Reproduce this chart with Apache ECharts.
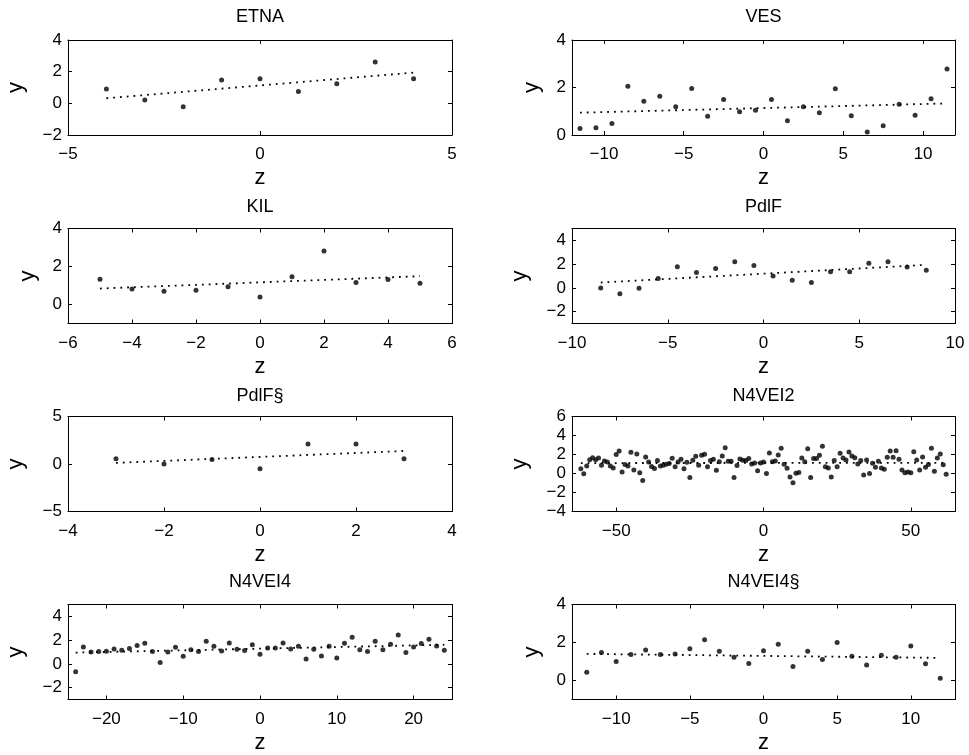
<!DOCTYPE html>
<html>
<head>
<meta charset="utf-8">
<title>z vs y</title>
<script src="https://cdn.jsdelivr.net/npm/echarts@6/dist/echarts.min.js"></script>
<style>
  html, body { margin: 0; padding: 0; background: #fff; }
  #main { width: 969px; height: 755px; }
</style>
</head>
<body>
<div id="main"></div>
<script>
// ---- data ----
var titles = ['ETNA', 'VES', 'KIL', 'PdlF', 'PdlF§', 'N4VEI2', 'N4VEI4', 'N4VEI4§'];

var etnaZ = [-4, -3, -2, -1, 0, 1, 2, 3, 4];
var etnaY = [0.91, 0.21, -0.21, 1.47, 1.56, 0.74, 1.24, 2.61, 1.56];
var etnaFit = [0.32, 1.94];

var vesZ = [-11.5, -10.5, -9.5, -8.5, -7.5, -6.5, -5.5, -4.5, -3.5, -2.5, -1.5, -0.5,
            0.5, 1.5, 2.5, 3.5, 4.5, 5.5, 6.5, 7.5, 8.5, 9.5, 10.5, 11.5];
var vesY = [0.27, 0.31, 0.48, 2.05, 1.42, 1.63, 1.19, 1.96, 0.79, 1.49, 0.98, 1.04,
            1.49, 0.60, 1.19, 0.94, 1.95, 0.81, 0.13, 0.39, 1.29, 0.83, 1.53, 2.78];
var vesFit = [0.94, 1.33];

var kilZ = [-5, -4, -3, -2, -1, 0, 1, 2, 3, 4, 5];
var kilY = [1.33, 0.82, 0.70, 0.75, 0.93, 0.40, 1.46, 2.82, 1.16, 1.32, 1.12];
var kilFit = [0.84, 1.49];

var pdlfZ = [-8.5, -7.5, -6.5, -5.5, -4.5, -3.5, -2.5, -1.5, -0.5,
             0.5, 1.5, 2.5, 3.5, 4.5, 5.5, 6.5, 7.5, 8.5];
var pdlfY = [0.00, -0.49, -0.03, 0.79, 1.77, 1.29, 1.63, 2.20, 1.89,
             1.01, 0.64, 0.45, 1.35, 1.35, 2.08, 2.20, 1.75, 1.49];
var pdlfFit = [0.45, 1.94];

var pdlfsZ = [-3, -2, -1, 0, 1, 2, 3];
var pdlfsY = [0.55, 0.00, 0.48, -0.51, 2.10, 2.10, 0.55];
var pdlfsFit = [0.12, 1.37];

var n4vei2Z = [-62, -61, -60, -59, -58, -57, -56, -55, -54, -53, -52, -51, -50, -49, -48, -47,
               -46, -45, -44, -43, -42, -41, -40, -39, -38, -37, -36, -35, -34, -33, -32, -31,
               -30, -29, -28, -27, -26, -25, -24, -23, -22, -21, -20, -19, -18, -17, -16, -15,
               -14, -13, -12, -11, -10, -9, -8, -7, -6, -5, -4, -3, -2, -1,
               0, 1, 2, 3, 4, 5, 6, 7, 8, 9, 10, 11, 12, 13, 14, 15, 16, 17, 18, 19, 20,
               21, 22, 23, 24, 25, 26, 27, 28, 29, 30, 31, 32, 33, 34, 35, 36, 37, 38, 39, 40,
               41, 42, 43, 44, 45, 46, 47, 48, 49, 50, 51, 52, 53, 54, 55, 56, 57, 58, 59, 60,
               61, 62];
var n4vei2Y = [0.49, -0.03, 0.80, 1.46, 1.67, 1.46, 1.64, 0.87, 1.32, 1.22,
               0.80, 0.59, 1.99, 2.37, 0.17, 0.94, 0.80, 2.23, 0.38, 2.06,
               0.07, -0.73, 1.74, 1.22, 0.73, 0.52, 1.36, 0.80, 0.87, 0.98,
               1.05, 1.60, 0.70, 1.22, 1.50, 0.49, 1.18, -0.42, 1.39, 1.81,
               0.87, 1.92, 2.02, 0.70, 1.36, 1.50, 0.35, 1.25, 1.85, 2.72,
               1.29, 1.29, -0.42, 0.84, 1.53, 1.39, 1.36, 1.57, 1.01, 1.11,
               0.28, 1.11,
               1.22, 0.00, 2.16, 1.25, 1.32, 1.95, 2.65, 0.98, 0.56, -0.38,
               -0.98, 0.03, 0.10, 1.64, 1.25, 2.61, -0.42, 1.57, 1.57, 1.92,
               2.86, 0.70, 0.59, -0.38, 1.36, 0.70, 2.13, 1.64, 1.43, 2.26,
               1.85, 1.67, 1.01, 1.36, -0.17, 1.43, 0.00, 1.08, 0.66, 1.29,
               0.59, 0.45, 1.71, 2.37, 1.71, 2.40, 1.50, 0.38, 0.07, 0.17,
               0.07, 2.30, 1.43, 0.38, 1.74, 0.66, 0.94, 2.65, 0.24, 1.64,
               2.06, 0.91, -0.07];
var n4vei2Fit = [1.10, 1.12];

var n4vei4Z = [-24, -23, -22, -21, -20, -19, -18, -17, -16, -15, -14, -13, -12, -11, -10,
               -9, -8, -7, -6, -5, -4, -3, -2, -1, 0, 1, 2, 3, 4, 5, 6, 7, 8, 9, 10,
               11, 12, 13, 14, 15, 16, 17, 18, 19, 20, 21, 22, 23, 24];
var n4vei4Y = [-0.67, 1.43, 1.01, 1.04, 1.06, 1.26, 1.15, 1.29, 1.54, 1.74,
               1.04, 0.11, 1.01, 1.40, 0.64, 1.20, 1.04, 1.90, 1.48, 1.09,
               1.76, 1.23, 1.12, 1.62, 0.82,
               1.34, 1.34, 1.76, 1.26, 1.48, 0.42, 1.23, 0.67, 1.48, 0.50,
               1.74, 2.24, 1.18, 1.04, 1.90, 1.20, 1.65, 2.44, 0.95, 1.43,
               1.71, 2.07, 1.51, 1.15];
var n4vei4Fit = [0.95, 1.61];

var n4vei4sZ = [-12, -11, -10, -9, -8, -7, -6, -5, -4, -3, -2, -1, 0,
                1, 2, 3, 4, 5, 6, 7, 8, 9, 10, 11, 12];
var n4vei4sY = [0.44, 1.47, 1.00, 1.37, 1.61, 1.37, 1.39, 1.67, 2.14, 1.54, 1.23, 0.89, 1.56,
                1.91, 0.74, 1.54, 1.10, 2.00, 1.28, 0.82, 1.33, 1.23, 1.82, 0.88, 0.12];
var n4vei4sFit = [1.40, 1.19];

// tick labels
var xTicks = [[-5, 0, 5], [-10, -5, 0, 5, 10], [-6, -4, -2, 0, 2, 4, 6], [-10, -5, 0, 5, 10],
              [-4, -2, 0, 2, 4], [-50, 0, 50], [-20, -10, 0, 10, 20], [-10, -5, 0, 5, 10]];
var yTicks = [[-2, 0, 2, 4], [0, 2, 4], [0, 2, 4], [-2, 0, 2, 4],
              [-5, 0, 5], [-4, -2, 0, 2, 4, 6], [-2, 0, 2, 4], [0, 2, 4]];
var xRange = [[-5, 5], [-12, 12], [-6, 6], [-10, 10], [-4, 4], [-65, 65], [-25, 25], [-13, 13]];
var yRange = [[-2, 4], [0, 4], [-1, 4], [-3, 5], [-5, 5], [-4, 6], [-3, 5], [-1, 4]];

var zs = [etnaZ, vesZ, kilZ, pdlfZ, pdlfsZ, n4vei2Z, n4vei4Z, n4vei4sZ];
var ys = [etnaY, vesY, kilY, pdlfY, pdlfsY, n4vei2Y, n4vei4Y, n4vei4sY];
var fits = [etnaFit, vesFit, kilFit, pdlfFit, pdlfsFit, n4vei2Fit, n4vei4Fit, n4vei4sFit];

// ---- layout ----
var FONT = 'Liberation Sans, Arial, Helvetica, sans-serif';
var colLeft = [68, 572];
var colWidth = [384, 383];
var rowTop = [40, 228.5, 416.5, 604.5];
var plotH = 95;
var titleTop = [8, 198.5, 387, 573];
var yNameGap = [41, 29, 29, 41, 41, 41, 41, 29];

function minus(v) {
  return String(v).replace('-', '\u2212');
}

var chart = echarts.init(document.getElementById('main'));

var grid = [], xAxis = [], yAxis = [], series = [], title = [];

for (var i = 0; i < 8; i++) {
  var col = i % 2, row = Math.floor(i / 2);
  grid.push({ left: colLeft[col], top: rowTop[row], width: colWidth[col], height: plotH });

  title.push({
    text: titles[i],
    left: colLeft[col] + colWidth[col] / 2,
    top: titleTop[row],
    textAlign: 'center',
    padding: 0,
    textStyle: { fontFamily: FONT, fontSize: 18, fontWeight: 'normal', color: '#000' }
  });

  var line = { show: true, onZero: false, lineStyle: { color: '#000', width: 1 } };
  var tickX = { show: true, inside: true, length: 4, customValues: xTicks[i], lineStyle: { color: '#000' } };
  var tickY = { show: true, inside: true, length: 4, customValues: yTicks[i], lineStyle: { color: '#000' } };

  // bottom axis with labels
  xAxis.push({
    type: 'value', gridIndex: i, position: 'bottom',
    min: xRange[i][0], max: xRange[i][1],
    axisLine: line, axisTick: tickX,
    axisLabel: { customValues: xTicks[i], formatter: minus, color: '#000', fontFamily: FONT, fontSize: 17, margin: 11 },
    splitLine: { show: false },
    name: 'z', nameLocation: 'middle', nameGap: 32,
    nameTextStyle: { fontFamily: FONT, fontSize: 22, color: '#000' }
  });
  // top mirror
  xAxis.push({
    type: 'value', gridIndex: i, position: 'top',
    min: xRange[i][0], max: xRange[i][1],
    axisLine: line, axisTick: tickX,
    axisLabel: { show: false },
    splitLine: { show: false }
  });

  // left axis with labels
  yAxis.push({
    type: 'value', gridIndex: i, position: 'left',
    min: yRange[i][0], max: yRange[i][1],
    axisLine: line, axisTick: tickY,
    axisLabel: { customValues: yTicks[i], formatter: minus, color: '#000', fontFamily: FONT, fontSize: 17, margin: 6 },
    splitLine: { show: false },
    name: 'y', nameLocation: 'middle', nameRotate: 90, nameGap: yNameGap[i],
    nameTextStyle: { fontFamily: FONT, fontSize: 22, color: '#000' }
  });
  // right mirror
  yAxis.push({
    type: 'value', gridIndex: i, position: 'right',
    min: yRange[i][0], max: yRange[i][1],
    axisLine: line, axisTick: tickY,
    axisLabel: { show: false },
    splitLine: { show: false }
  });

  var pts = zs[i].map(function (z, k) { return [z, ys[i][k]]; });
  var zArr = zs[i];

  // 拟合线
  series.push({
    type: 'line', xAxisIndex: 2 * i, yAxisIndex: 2 * i,
    data: [[zArr[0], fits[i][0]], [zArr[zArr.length - 1], fits[i][1]]],
    showSymbol: false, silent: true,
    lineStyle: { color: '#000', width: 1.8, type: [1.8, 5] }
  });
  // 散点
  series.push({
    type: 'scatter', xAxisIndex: 2 * i, yAxisIndex: 2 * i,
    data: pts, symbol: 'circle', symbolSize: 5,
    itemStyle: { color: '#000' }
  });
}

chart.setOption({
  animation: false,
  backgroundColor: '#fff',
  title: title,
  grid: grid,
  xAxis: xAxis,
  yAxis: yAxis,
  series: series
});
</script>
</body>
</html>
